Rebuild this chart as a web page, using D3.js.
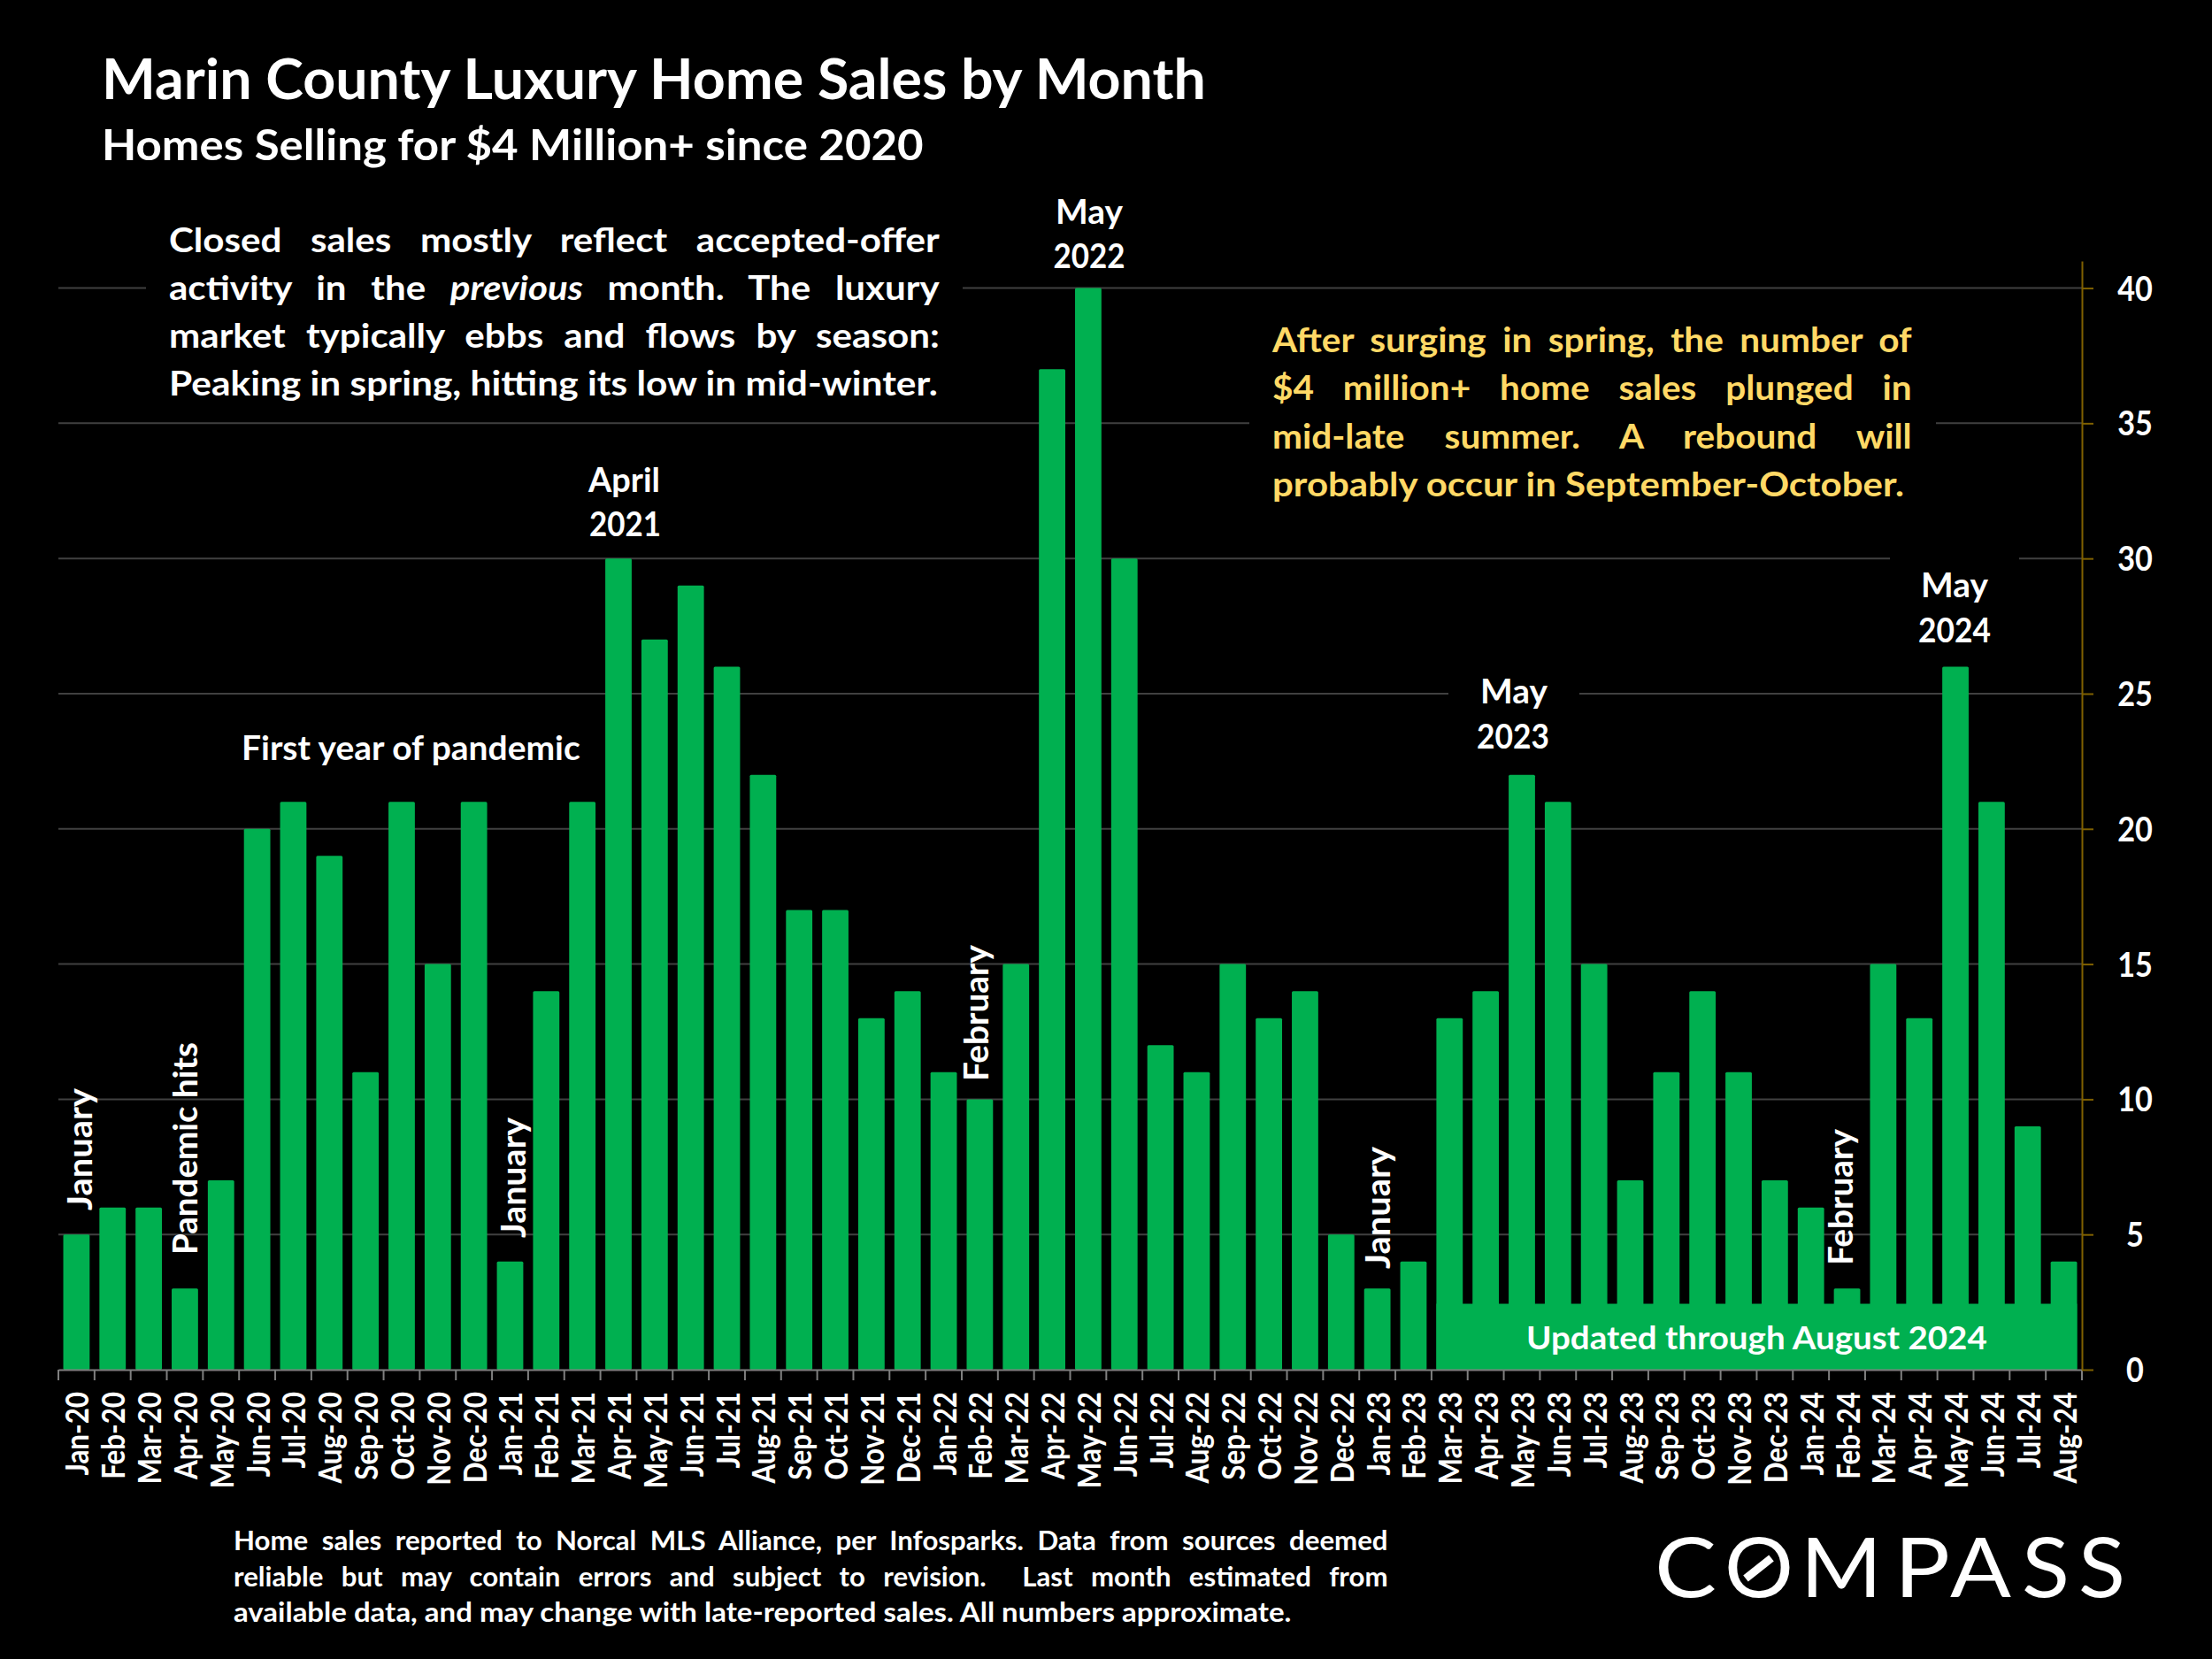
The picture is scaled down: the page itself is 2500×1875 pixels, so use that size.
<!DOCTYPE html>
<html>
<head>
<meta charset="utf-8">
<script src="https://cdn.jsdelivr.net/npm/d3@7"></script>
<style>
  html, body { margin: 0; padding: 0; background: #000; }
  svg { display: block; }
  text { font-family: Lato, "Open Sans", sans-serif; font-weight: 700; fill: #fff; white-space: pre; }
</style>
</head>
<body>
<div id="chart"></div>
<script>
const months = ["Jan-20","Feb-20","Mar-20","Apr-20","May-20","Jun-20","Jul-20","Aug-20","Sep-20","Oct-20","Nov-20","Dec-20",
  "Jan-21","Feb-21","Mar-21","Apr-21","May-21","Jun-21","Jul-21","Aug-21","Sep-21","Oct-21","Nov-21","Dec-21",
  "Jan-22","Feb-22","Mar-22","Apr-22","May-22","Jun-22","Jul-22","Aug-22","Sep-22","Oct-22","Nov-22","Dec-22",
  "Jan-23","Feb-23","Mar-23","Apr-23","May-23","Jun-23","Jul-23","Aug-23","Sep-23","Oct-23","Nov-23","Dec-23",
  "Jan-24","Feb-24","Mar-24","Apr-24","May-24","Jun-24","Jul-24","Aug-24"];
const sales = [5,6,6,3,7,20,21,19,11,21,15,21,
  4,14,21,30,27,29,26,22,17,17,13,14,
  11,10,15,37,40,30,12,11,15,13,14,5,
  3,4,13,14,22,21,15,7,11,14,11,7,
  6,3,15,13,26,21,9,4];
const yTicks = [0,5,10,15,20,25,30,35,40];

const width = 2500, height = 1875;
const left = 66, right = 2353, baseY = 1548, topY = 295;
const green = "#00B050", gold = "#FFD966";

const svg = d3.select("#chart").append("svg")
  .attr("width", width).attr("height", height)
  .style("background", "#000");

const x = d3.scaleBand().domain(months).range([left, right]).paddingInner(0.27).paddingOuter(0.135);
const y = d3.scaleLinear().domain([0, 41]).range([baseY, topY]);

// gridlines
svg.append("g").selectAll("line").data(yTicks.filter(d => d > 0)).join("line")
  .attr("x1", left).attr("x2", right)
  .attr("y1", d => y(d)).attr("y2", d => y(d))
  .attr("stroke", "#404040").attr("stroke-width", 2);

// black boxes behind the text blocks cut the gridlines
const gaps = [[165, 290, 923, 170], [1412, 340, 776, 250], [1637, 770, 148, 90], [2136, 622, 146, 120]];
svg.append("g").selectAll("rect").data(gaps).join("rect")
  .attr("x", d => d[0]).attr("y", d => d[1]).attr("width", d => d[2]).attr("height", d => d[3])
  .attr("fill", "#000");

// bars
svg.append("g").selectAll("rect").data(sales).join("rect")
  .attr("x", (d, i) => x(months[i]))
  .attr("y", d => y(d))
  .attr("width", x.bandwidth())
  .attr("height", d => y(0) - y(d))
  .attr("rx", 1.5)
  .attr("fill", green);

// green strip for the update note
svg.append("rect")
  .attr("x", x("Mar-23")).attr("y", 1473.5)
  .attr("width", x("Aug-24") + x.bandwidth() - x("Mar-23"))
  .attr("height", baseY - 1473.5 + 1)
  .attr("fill", green);

// x axis, ticks sit on the band edges so the labels get their own tick-less axis
const xAxis = svg.append("g").attr("transform", `translate(0,${baseY})`)
  .call(d3.axisBottom(x).tickSize(0).tickPadding(0));
xAxis.select(".domain").attr("stroke", "#7f7f7f").attr("stroke-width", 2);
xAxis.selectAll("text")
  .attr("x", 0).attr("y", 0).attr("dy", 0)
  .attr("text-anchor", "end")
  .attr("font-size", 36)
  .style("font-family", "Lato")
  .attr("transform", "translate(14,25) rotate(-90) scale(0.87,1)");
svg.append("g").selectAll("line").data(d3.range(months.length + 1)).join("line")
  .attr("x1", i => left + i * x.step()).attr("x2", i => left + i * x.step())
  .attr("y1", baseY).attr("y2", baseY + 12)
  .attr("stroke", "#7f7f7f").attr("stroke-width", 2);

// y axis on the right
const yAxis = svg.append("g").attr("transform", `translate(${right},0)`)
  .call(d3.axisRight(y).tickValues(yTicks).tickSize(13).tickSizeOuter(0).tickPadding(0));
yAxis.select(".domain").attr("stroke", "#7F6000").attr("stroke-width", 2);
yAxis.selectAll(".tick line").attr("stroke", "#7F6000").attr("stroke-width", 2);
yAxis.selectAll("text")
  .attr("x", 0).attr("y", 0).attr("dy", 0)
  .attr("text-anchor", "middle")
  .attr("font-size", 38)
  .style("font-family", "Lato")
  .attr("transform", "translate(60,13.5) scale(0.9,1)");

// one line of text squeezed to the given width; justify spreads the words instead
function line(parts, px, py, size, w, opts = {}) {
  const g = svg.append("g");
  const t = g.append("text").attr("font-size", size).attr("fill", opts.fill || "#fff").style("fill", opts.fill || "#fff");
  parts.forEach(p => t.append("tspan").text(p[0]).style("font-style", p[1] ? "italic" : "normal"));
  const len = t.node().getComputedTextLength();
  let sx = w / len;
  if (opts.justify) {
    sx = opts.justify;
    const spaces = parts.map(p => p[0]).join("").split(" ").length - 1;
    t.style("word-spacing", ((w / sx - len) / spaces) + "px");
  }
  g.attr("transform", `translate(${px},${py}) scale(${sx},1)`);
  return g;
}
// rotated note reading bottom to top
function upright(str, baseX, startY, length) {
  const g = svg.append("g");
  const t = g.append("text").attr("font-size", 38).text(str);
  const sx = length / t.node().getComputedTextLength();
  g.attr("transform", `translate(${baseX},${startY}) rotate(-90) scale(${sx},1)`);
}

line([["Marin County Luxury Home Sales by Month"]], 115, 112, 62.5, 1248);
line([["Homes Selling for $4 Million+ since 2020"]], 115, 181, 47, 929);

const sq = 1.08, sqGold = 1.04;
line([["Closed sales mostly reflect accepted-offer"]], 191, 285, 39, 871, { justify: sq });
line([["activity in the "], ["previous", true], [" month. The luxury"]], 191, 339, 39, 871, { justify: sq });
line([["market typically ebbs and flows by season:"]], 191, 393, 39, 871, { justify: sq });
line([["Peaking in spring, hitting its low in mid-winter."]], 191, 447, 39, 869);

line([["After surging in spring, the number of"]], 1438, 398, 39, 723, { justify: sqGold, fill: gold });
line([["$4 million+ home sales plunged in"]], 1438, 452, 39, 723, { justify: sqGold, fill: gold });
line([["mid-late summer. A rebound will"]], 1438, 507, 39, 723, { justify: sqGold, fill: gold });
line([["probably occur in September-October."]], 1438, 561, 39, 714, { fill: gold });

line([["May"]], 1193, 253, 38, 76);
line([["2022"]], 1190.5, 303, 38, 81);
line([["April"]], 665, 556, 38, 81);
line([["2021"]], 666, 606, 38, 81);
line([["May"]], 1673, 794.5, 38, 76);
line([["2023"]], 1669, 845.5, 38, 82);
line([["May"]], 2171, 675, 38, 76);
line([["2024"]], 2168, 725.5, 38, 82);
line([["First year of pandemic"]], 273, 859, 38, 383);

upright("January", 103.5, 1368, 138);
upright("Pandemic hits", 223, 1418, 240);
upright("January", 594, 1399, 136);
upright("February", 1117, 1222, 154);
upright("January", 1571, 1434, 138);
upright("February", 2094, 1430, 154);

line([["Updated through August 2024"]], 1725, 1525, 36, 521);

line([["Home sales reported to Norcal MLS Alliance, per Infosparks. Data from sources deemed"]], 264, 1752, 30, 1305, { justify: 1.04 });
line([["reliable but may contain errors and subject to revision.  Last month estimated from"]], 264, 1793, 30, 1305, { justify: 1.04 });
line([["available data, and may change with late-reported sales. All numbers approximate."]], 264, 1833, 30, 1196);

// Compass wordmark, letter by letter so the O can take its slash
const logoLetters = ["C","O","M","P","A","S","S"];
const logoLeft = [1870, 1949, 2035, 2141, 2204, 2285, 2349];
const logoWidth = [70, 78, 92, 63, 69, 54, 53];
logoLetters.forEach((c, i) => {
  svg.append("text")
    .attr("x", logoLeft[i]).attr("y", 1805)
    .attr("font-size", 94)
    .attr("textLength", logoWidth[i])
    .attr("lengthAdjust", "spacingAndGlyphs")
    .style("font-weight", 400)
    .text(c);
});
svg.append("line")
  .attr("x1", 1973).attr("y1", 1784).attr("x2", 2002).attr("y2", 1761)
  .attr("stroke", "#fff").attr("stroke-width", 9);
</script>
</body>
</html>
